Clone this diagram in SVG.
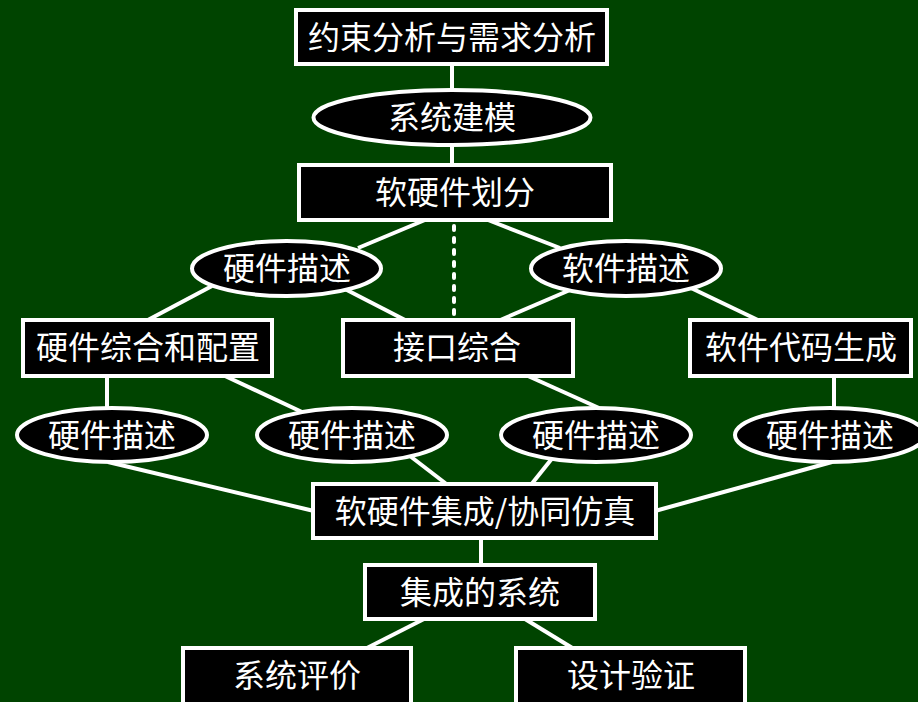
<svg xmlns="http://www.w3.org/2000/svg" width="918" height="702" viewBox="0 0 918 702">
<style>
.bg{fill:#004400}
.n rect,.n ellipse{fill:#000;stroke:#fff;stroke-width:4}
.n text{fill:#fff;font-family:"Noto Sans CJK SC","Liberation Sans",sans-serif;font-size:32px;text-anchor:middle}
.c line{stroke:#fff;stroke-width:4}
.c .dash{stroke-width:4;stroke-dasharray:4 8;stroke-linecap:round}
</style>
<rect class="bg" x="0" y="0" width="918" height="702"/>
<g id="connectors" class="c">
<line x1="452" y1="64" x2="452" y2="92"/>
<line x1="452" y1="143" x2="452" y2="167"/>
<line x1="425" y1="220" x2="358" y2="248"/>
<line x1="488" y1="220" x2="560" y2="248"/>
<line class="dash" x1="454" y1="226" x2="454" y2="318"/>
<line x1="212" y1="286" x2="146" y2="321"/>
<line x1="343" y1="288" x2="407" y2="321"/>
<line x1="570" y1="290" x2="498" y2="321"/>
<line x1="691" y1="288" x2="760" y2="321"/>
<line x1="107" y1="376" x2="107" y2="410"/>
<line x1="225" y1="376" x2="302" y2="412"/>
<line x1="528" y1="376" x2="599" y2="408"/>
<line x1="834" y1="376" x2="834" y2="410"/>
<line x1="108" y1="462" x2="314" y2="511"/>
<line x1="410" y1="456" x2="449" y2="486"/>
<line x1="554" y1="456" x2="530" y2="486"/>
<line x1="832" y1="462" x2="655" y2="511"/>
<line x1="481" y1="538" x2="481" y2="567"/>
<line x1="424" y1="619" x2="365" y2="649"/>
<line x1="525" y1="619" x2="574" y2="649"/>
</g>
<g id="n1" class="n"><rect x="296" y="10" width="311" height="54"/><text x="452" y="49">约束分析与需求分析</text></g>
<g id="n2" class="n"><ellipse cx="452" cy="117.5" rx="138.5" ry="27.5"/><text x="452" y="129">系统建模</text></g>
<g id="n3" class="n"><rect x="299" y="165" width="312" height="55"/><text x="455" y="204">软硬件划分</text></g>
<g id="n4" class="n"><ellipse cx="286.5" cy="268.5" rx="94.5" ry="27.5"/><text x="287" y="280">硬件描述</text></g>
<g id="n5" class="n"><ellipse cx="626" cy="268.5" rx="95" ry="27.5"/><text x="626" y="280">软件描述</text></g>
<g id="n6" class="n"><rect x="23" y="320" width="249" height="56"/><text x="148" y="359">硬件综合和配置</text></g>
<g id="n7" class="n"><rect x="343" y="320" width="230" height="56"/><text x="457" y="359">接口综合</text></g>
<g id="n8" class="n"><rect x="690" y="320" width="221" height="56"/><text x="801" y="359">软件代码生成</text></g>
<g id="n9" class="n"><ellipse cx="112" cy="435" rx="95" ry="27"/><text x="112" y="447">硬件描述</text></g>
<g id="n10" class="n"><ellipse cx="352" cy="435" rx="95" ry="27"/><text x="352" y="447">硬件描述</text></g>
<g id="n11" class="n"><ellipse cx="596" cy="435" rx="95" ry="27"/><text x="596" y="447">硬件描述</text></g>
<g id="n12" class="n"><ellipse cx="830" cy="435" rx="95" ry="27"/><text x="830" y="447">硬件描述</text></g>
<g id="n13" class="n"><rect x="313" y="484" width="343" height="54"/><text x="485" y="523">软硬件集成/协同仿真</text></g>
<g id="n14" class="n"><rect x="365" y="565" width="230" height="54"/><text x="480" y="604">集成的系统</text></g>
<g id="n15" class="n"><rect x="183" y="648" width="228" height="60"/><text x="297" y="687">系统评价</text></g>
<g id="n16" class="n"><rect x="516" y="648" width="229" height="60"/><text x="631" y="687">设计验证</text></g>
</svg>
